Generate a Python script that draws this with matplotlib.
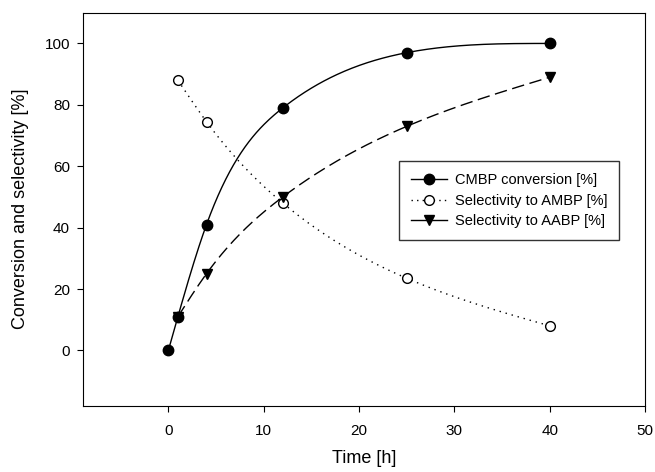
import numpy as np
import matplotlib
matplotlib.use('Agg')
import matplotlib.pyplot as plt
from matplotlib.lines import Line2D

plt.rcParams['font.family'] = ['Liberation Sans', 'DejaVu Sans']

time_h = [0, 1, 4, 12, 25, 40]
cmbp_conv = [0, 11, 41, 79, 97, 100]
time_sel = [1, 4, 12, 25, 40]
ambp_sel = [88, 74.5, 48, 23.5, 8]
aabp_sel = [11, 25, 50, 73, 89]


def smooth(x, y, n=300):
    # natural cubic spline through the points, only used to draw the line
    x = np.asarray(x, float)
    y = np.asarray(y, float)
    k = len(x)
    h = np.diff(x)
    A = np.zeros((k, k))
    b = np.zeros(k)
    A[0, 0] = A[-1, -1] = 1
    for i in range(1, k - 1):
        A[i, i - 1] = h[i - 1]
        A[i, i] = 2 * (h[i - 1] + h[i])
        A[i, i + 1] = h[i]
        b[i] = 6 * ((y[i + 1] - y[i]) / h[i] - (y[i] - y[i - 1]) / h[i - 1])
    M = np.linalg.solve(A, b)
    xs = np.linspace(x[0], x[-1], n)
    idx = np.clip(np.searchsorted(x, xs) - 1, 0, k - 2)
    x0, x1 = x[idx], x[idx + 1]
    hh = h[idx]
    ys = (M[idx] * (x1 - xs)**3 / (6 * hh) + M[idx + 1] * (xs - x0)**3 / (6 * hh)
          + (y[idx] / hh - M[idx] * hh / 6) * (x1 - xs)
          + (y[idx + 1] / hh - M[idx + 1] * hh / 6) * (xs - x0))
    return xs, ys


fig = plt.figure(figsize=(6.55, 4.72), dpi=100)
ax = fig.add_axes([0.126, 0.1405, 0.859, 0.8325])

xs, ys = smooth(time_h, cmbp_conv)
ax.plot(xs, ys, color='black', lw=1.0)
ax.plot(time_h, cmbp_conv, 'o', color='black', ms=7.5, ls='none')

xs, ys = smooth(time_sel, ambp_sel)
ax.plot(xs, ys, color='black', lw=1.0, ls=(0, (1, 3.5)))
ax.plot(time_sel, ambp_sel, 'o', mfc='white', mec='black', ms=7, mew=1.0, ls='none')

xs, ys = smooth(time_sel, aabp_sel)
ax.plot(xs, ys, color='black', lw=1.0, ls=(0, (9, 4)))
ax.plot(time_sel, aabp_sel, 'v', color='black', ms=7.5, ls='none')

ax.set_xlim(-9, 50)
ax.set_ylim(-18, 110)
ax.set_xticks([0, 10, 20, 30, 40, 50])
ax.set_yticks([0, 20, 40, 60, 80, 100])
ax.tick_params(direction='out', length=4, labelsize=11, top=False, right=False)
ax.tick_params(axis='x', pad=9)
ax.tick_params(axis='y', pad=5)
ax.set_xlabel('Time [h]', fontsize=13, labelpad=9)
ax.set_ylabel('Conversion and selectivity [%]', fontsize=13, labelpad=11)

handles = [
    Line2D([], [], color='black', lw=1.0, marker='o', ms=7.5),
    Line2D([], [], color='black', lw=1.0, ls=(0, (1, 3)), marker='o', mfc='white', ms=7),
    Line2D([], [], color='black', lw=1.0, marker='v', ms=7.5),
]
labels = ['CMBP conversion [%]', 'Selectivity to AMBP [%]', 'Selectivity to AABP [%]']
leg = ax.legend(handles, labels, loc='upper left', bbox_to_anchor=(0.55, 0.64),
                fontsize=10.5, frameon=True, fancybox=False, edgecolor='black',
                handlelength=2.5, handletextpad=0.5, labelspacing=0.45, borderpad=0.8)
leg.get_frame().set_linewidth(1.0)

fig.savefig('out.png', dpi=100)
